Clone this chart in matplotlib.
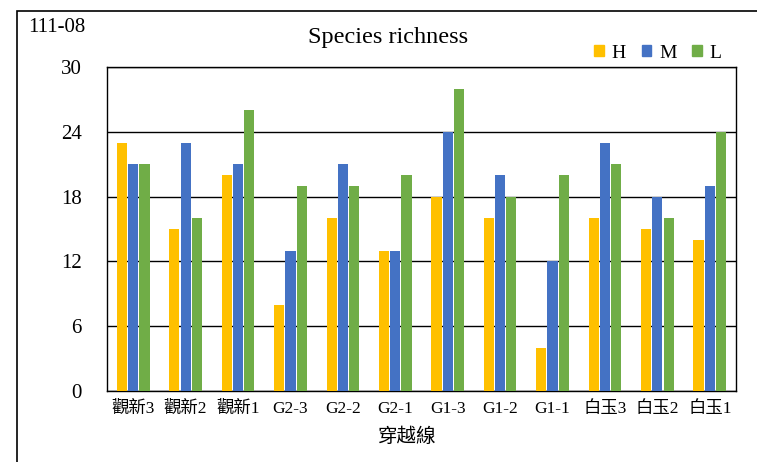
import numpy as np
import matplotlib.pyplot as plt
from matplotlib.patches import Rectangle, Patch

plt.rcParams['font.family'] = ['Liberation Serif', 'Noto Sans CJK TC']

sites = ['觀新3', '觀新2', '觀新1', 'G2-3', 'G2-2', 'G2-1', 'G1-3', 'G1-2', 'G1-1', '白玉3', '白玉2', '白玉1']
h_vals = [23, 15, 20, 8, 16, 13, 18, 16, 4, 16, 15, 14]
m_vals = [21, 23, 21, 13, 21, 13, 24, 20, 12, 23, 18, 19]
l_vals = [21, 16, 26, 19, 19, 20, 28, 18, 20, 21, 16, 24]
series = ['H', 'M', 'L']
colors = ['#FFC000', '#4472C4', '#70AD47']

fig = plt.figure(figsize=(7.57, 4.62), dpi=100)
ax = fig.add_axes([107/757, 1 - 391/462, 629/757, 324/462])

# outer chart frame
fig.patches.append(Rectangle((17/757, -0.05), 1.0, 1 - 11/462 + 0.05,
                             transform=fig.transFigure, fill=False,
                             edgecolor='black', linewidth=1.2))

x = np.arange(len(sites))
w = 0.215
for i, (vals, c, name) in enumerate(zip([h_vals, m_vals, l_vals], colors, series)):
    ax.bar(x + (i - 1) * w, vals, width=w * 0.9, color=c, linewidth=0,
           zorder=3, label=name)

ax.set_xlim(-0.5, len(sites) - 0.5)
ax.set_ylim(0, 30)
ax.set_yticks(range(0, 31, 6))
ax.set_xticks(x)
ax.set_xticklabels(sites, fontsize=12.5)
ax.tick_params(axis='y', labelsize=15, length=0, pad=18)
ax.tick_params(axis='x', length=0, pad=7)
ax.grid(axis='y', color='black', linewidth=1, zorder=1)
for s in ax.spines.values():
    s.set_color('black')
    s.set_linewidth(1)

fig.text(406/757, 1 - 437/462, '穿越線', ha='center', va='center', fontsize=14)
fig.text(388/757, 1 - 38/462, 'Species richness', ha='center', va='center', fontsize=17.5)
fig.text(28/757, 1 - 27/462, '111-08', ha='left', va='center', fontsize=15)

handles = [Patch(color=c) for c in colors]
fig.legend(handles, series, loc='center', bbox_to_anchor=(658/757, 1 - 53/462),
           ncol=3, frameon=False, fontsize=14, handlelength=0.5, handleheight=0.5,
           handletextpad=0.4, columnspacing=0.8)

fig.savefig('out.png', dpi=100)
